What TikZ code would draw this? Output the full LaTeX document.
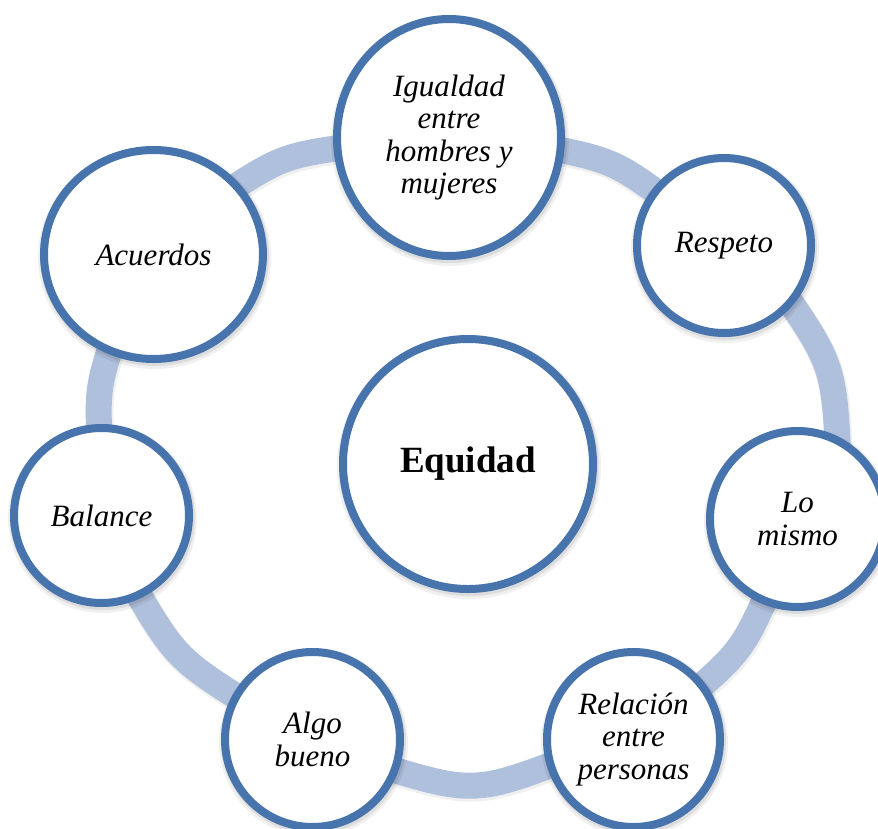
\documentclass[tikz,border=0pt]{standalone}
\usepackage{fontspec}
\setmainfont{Liberation Serif}
\usetikzlibrary{shapes.geometric}
\definecolor{bluestroke}{HTML}{4774AC}
\definecolor{ringblue}{HTML}{AFC0DC}
\tikzset{
  bubble/.style={shape=ellipse, draw=bluestroke, line width=8pt, fill=white,
    inner sep=0pt, align=center, text=black,
    font=\fontsize{31}{32.5}\selectfont\itshape,
    preaction={draw=black, draw opacity=0.06, line width=14pt, fill=none,
      transform canvas={xshift=1pt, yshift=-3pt}},
    preaction={draw=black, draw opacity=0.08, line width=10pt, fill=none,
      transform canvas={xshift=1pt, yshift=-2pt}}},
  ringseg/.style={draw=ringblue, line width=26pt,
    preaction={draw=black, draw opacity=0.06, line width=28pt,
      transform canvas={xshift=1pt, yshift=-2pt}}}
}
\begin{document}
\begin{tikzpicture}[x=1pt, y=-1pt]
\useasboundingbox[fill=white] (0,0) rectangle (878,828);
% ring segments (ends hidden under the circles)
\coordinate (s1) at (213.9,200.8); \coordinate (c1) at (282.1,155.7); \coordinate (e1) at (363.0,144.6);
\coordinate (s2) at (535.4,144.8); \coordinate (c2) at (613.9,160.5); \coordinate (e2) at (678.2,208.1);
\coordinate (s3) at (776.5,281.9); \coordinate (c3) at (834.1,365.4); \coordinate (e3) at (838.7,466.8);
\coordinate (s4) at (775.3,575.6); \coordinate (c4) at (742.6,650.5); \coordinate (e4) at (680.7,703.9);
\coordinate (s5) at (576.7,755.1); \coordinate (c5) at (473.9,794.7); \coordinate (e5) at (368.7,762.1);
\coordinate (s6) at (258.4,710.2); \coordinate (c6) at (175.6,658.6); \coordinate (e6) at (126.7,574.1);
\coordinate (s7) at (100.3,454.3); \coordinate (c7) at (97.0,389.0);  \coordinate (e7) at (117.1,326.8);
\draw[ringseg] (s1) .. controls (c1) .. (e1);
\draw[ringseg] (s2) .. controls (c2) .. (e2);
\draw[ringseg] (s3) .. controls (c3) .. (e3);
\draw[ringseg] (s4) .. controls (c4) .. (e4);
\draw[ringseg] (s5) .. controls (c5) .. (e5);
\draw[ringseg] (s6) .. controls (c6) .. (e6);
\draw[ringseg] (s7) .. controls (c7) .. (e7);

\node[bubble, minimum width=224pt, minimum height=237pt] (igualdad) at (449,137.5) {Igualdad\\entre\\hombres y\\mujeres};
\node[bubble, minimum width=174pt, minimum height=175pt] (respeto) at (724,245.5) {Respeto};
\node[bubble, minimum width=175pt, minimum height=176pt] (mismo) at (797.5,519) {Lo\\mismo};
\node[bubble, minimum width=173pt, minimum height=175pt] (relacion) at (633.5,739.5) {Relación\\entre\\personas};
\node[bubble, minimum width=175pt, minimum height=175pt] (algo) at (312.5,739.5) {Algo\\bueno};
\node[bubble, minimum width=175pt, minimum height=175pt] (balance) at (101.5,515.5) {Balance};
\node[bubble, minimum width=219pt, minimum height=209pt] (acuerdos) at (153.5,254.5) {Acuerdos};
\node[bubble, minimum width=250pt, minimum height=250pt, font=\fontsize{37}{40}\selectfont\bfseries] (equidad) at (468,464) {Equidad};
\end{tikzpicture}
\end{document}
